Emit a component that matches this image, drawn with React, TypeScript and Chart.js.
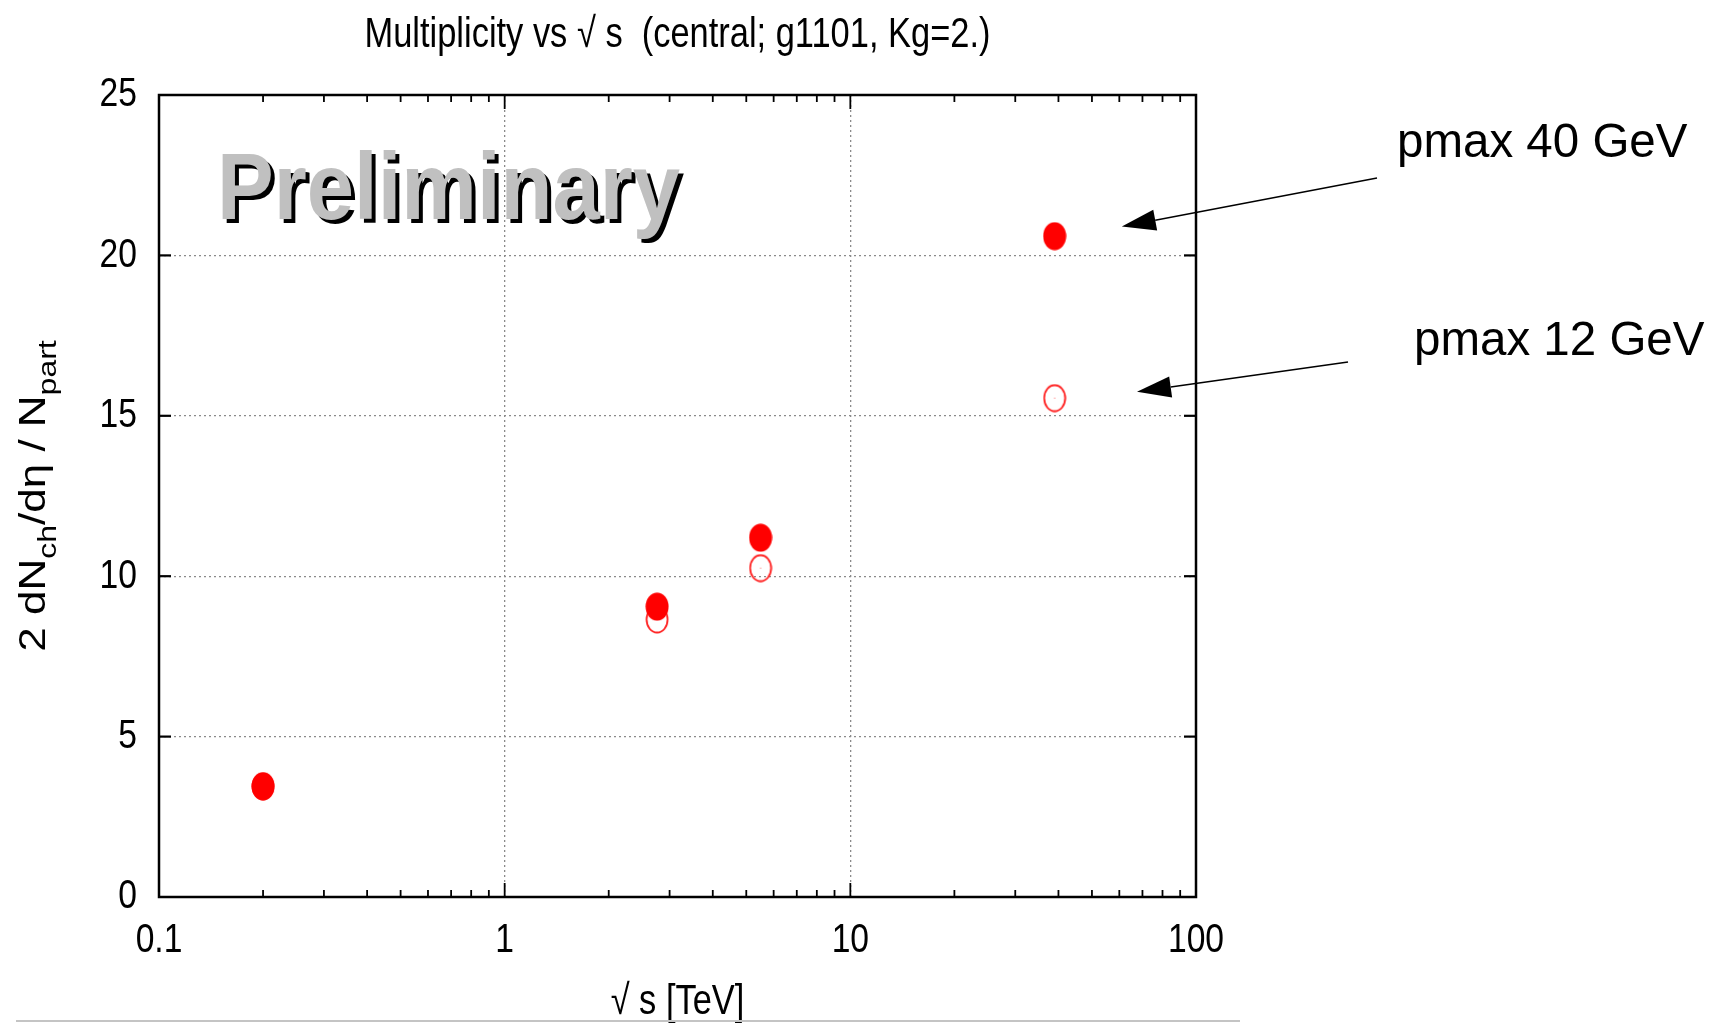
import React, { useEffect, useRef } from "react";
import { Chart, registerables } from "chart.js";

Chart.register(...registerables);

// ---- data ----
const energies = [0.2, 2.76, 5.5, 39]; // sqrt(s) [TeV]
const pmax40 = [3.45, 9.05, 11.2, 20.6];
const pmax12 = [3.45, 8.65, 10.25, 15.55];
const xTickValues = [0.1, 1, 10, 100];
const xMinorTicks = [0.2, 0.3, 0.4, 0.5, 0.6, 0.7, 0.8, 0.9, 2, 3, 4, 5, 6, 7, 8, 9, 20, 30, 40, 50, 60, 70, 80, 90];
const xMajorInner = [1, 10];
const yTickValues = [0, 5, 10, 15, 20, 25];
const yMajorInner = [5, 10, 15, 20];
const titleText = "Multiplicity vs \u221A s  (central; g1101, Kg=2.)";
const xTitleText = "\u221A s [TeV]";
const yLabelParts: [string, boolean][] = [
  ["2 dN", false],
  ["ch", true],
  ["/d\u03B7 / N", false],
  ["part", true],
];
const prelimText = "Preliminary";
const label40 = "pmax 40 GeV";
const label12 = "pmax 12 GeV";
const arrowTip40 = { x: 61, y: 20.9 };
const arrowTip12 = { x: 67.5, y: 15.75 };

const SANS = '"Liberation Sans", Arial, sans-serif';
const SQUEEZE = 0.82;

function makeMarker(filled: boolean): HTMLCanvasElement {
  const c = document.createElement("canvas");
  c.width = 24;
  c.height = 29;
  const g = c.getContext("2d")!;
  g.beginPath();
  if (filled) {
    g.ellipse(12, 14.5, 11.5, 14, 0, 0, Math.PI * 2);
    g.fillStyle = "#ff0000";
    g.fill();
  } else {
    g.ellipse(12, 14.5, 10.5, 13, 0, 0, Math.PI * 2);
    g.strokeStyle = "#ff2020";
    g.lineWidth = 1.8;
    g.stroke();
    g.fillStyle = "#ff6060";
    g.fillRect(11.5, 14, 1, 1);
  }
  return c;
}

function line(ctx: CanvasRenderingContext2D, x0: number, y0: number, x1: number, y1: number) {
  ctx.beginPath();
  ctx.moveTo(x0, y0);
  ctx.lineTo(x1, y1);
  ctx.stroke();
}

function narrowText(
  ctx: CanvasRenderingContext2D,
  text: string,
  x: number,
  y: number,
  size: number,
  align: CanvasTextAlign,
  baseline: CanvasTextBaseline
) {
  ctx.save();
  ctx.translate(x, y);
  ctx.scale(SQUEEZE, 1);
  ctx.font = `${size}px ${SANS}`;
  ctx.textAlign = align;
  ctx.textBaseline = baseline;
  ctx.fillStyle = "#000";
  ctx.fillText(text, 0, 0);
  ctx.restore();
}

function arrow(ctx: CanvasRenderingContext2D, x0: number, y0: number, x1: number, y1: number) {
  const ang = Math.atan2(y1 - y0, x1 - x0);
  const len = 34;
  const hw = 10.5;
  const bx = x1 - len * Math.cos(ang);
  const by = y1 - len * Math.sin(ang);
  ctx.strokeStyle = "#000";
  ctx.lineWidth = 1.6;
  line(ctx, x0, y0, bx, by);
  ctx.beginPath();
  ctx.moveTo(x1, y1);
  ctx.lineTo(bx + hw * Math.sin(ang), by - hw * Math.cos(ang));
  ctx.lineTo(bx - hw * Math.sin(ang), by + hw * Math.cos(ang));
  ctx.closePath();
  ctx.fillStyle = "#000";
  ctx.fill();
}

const decorPlugin = {
  id: "decor",
  beforeDraw(chart: any) {
    const { ctx, chartArea: a } = chart;
    ctx.save();
    ctx.fillStyle = "#ffffff";
    ctx.fillRect(0, 0, chart.width, chart.height);
    // Preliminary watermark with shadow
    ctx.translate(a.left + 58, a.top + 124);
    ctx.scale(0.895, 1);
    ctx.font = `bold 95px ${SANS}`;
    ctx.textBaseline = "alphabetic";
    ctx.textAlign = "left";
    ctx.fillStyle = "#000";
    ctx.fillText(prelimText, 4.5, 4);
    ctx.fillStyle = "#c0c0c0";
    ctx.fillText(prelimText, 0, 0);
    ctx.restore();
  },
  afterDraw(chart: any) {
    const { ctx, chartArea: a } = chart;
    const xs = chart.scales.x;
    const ys = chart.scales.y;
    ctx.save();
    // frame
    ctx.strokeStyle = "#000";
    ctx.lineWidth = 2.5;
    ctx.strokeRect(a.left, a.top, a.right - a.left, a.bottom - a.top);
    // inward ticks
    ctx.lineWidth = 2.2;
    for (const v of yMajorInner) {
      const y = ys.getPixelForValue(v);
      line(ctx, a.left, y, a.left + 12, y);
      line(ctx, a.right - 12, y, a.right, y);
    }
    ctx.lineWidth = 1.8;
    for (const v of xMinorTicks) {
      const x = xs.getPixelForValue(v);
      line(ctx, x, a.bottom, x, a.bottom - 7);
      line(ctx, x, a.top, x, a.top + 7);
    }
    for (const v of xMajorInner) {
      const x = xs.getPixelForValue(v);
      line(ctx, x, a.bottom, x, a.bottom - 14);
      line(ctx, x, a.top, x, a.top + 14);
    }
    // tick labels (condensed)
    for (const t of ys.ticks) {
      narrowText(ctx, String(t.value), a.left - 22, ys.getPixelForValue(t.value), 41, "right", "middle");
    }
    for (const t of xs.ticks) {
      narrowText(ctx, String(t.value), xs.getPixelForValue(t.value), a.bottom + 44, 41, "center", "middle");
    }
    const cx = (a.left + a.right) / 2;
    // title
    narrowText(ctx, titleText, cx, 47, 42, "center", "alphabetic");
    // x title
    narrowText(ctx, xTitleText, cx, 1014, 42, "center", "alphabetic");
    // y label (rotated, squeezed, with subscripts)
    const mainSize = 44;
    const subSize = 32;
    ctx.save();
    ctx.translate(45, (a.top + a.bottom) / 2);
    ctx.rotate(-Math.PI / 2);
    ctx.scale(1, SQUEEZE);
    ctx.fillStyle = "#000";
    let total = 0;
    for (const [t, sub] of yLabelParts) {
      ctx.font = `${sub ? subSize : mainSize}px ${SANS}`;
      total += ctx.measureText(t).width;
    }
    let px = -total / 2;
    ctx.textAlign = "left";
    ctx.textBaseline = "alphabetic";
    for (const [t, sub] of yLabelParts) {
      ctx.font = `${sub ? subSize : mainSize}px ${SANS}`;
      ctx.fillText(t, px, sub ? 13 : 0);
      px += ctx.measureText(t).width;
    }
    ctx.restore();
    // annotations
    ctx.font = `47.5px ${SANS}`;
    ctx.textAlign = "left";
    ctx.textBaseline = "alphabetic";
    ctx.fillStyle = "#000";
    ctx.fillText(label40, 1397, 157);
    ctx.fillText(label12, 1414, 355);
    arrow(ctx, 1377, 178, xs.getPixelForValue(arrowTip40.x), ys.getPixelForValue(arrowTip40.y));
    arrow(ctx, 1348, 362, xs.getPixelForValue(arrowTip12.x), ys.getPixelForValue(arrowTip12.y));
    // slide bottom rule
    ctx.strokeStyle = "#c4c4c4";
    ctx.lineWidth = 2;
    line(ctx, 16, 1021, 1240, 1021);
    ctx.restore();
  },
};

export default function App() {
  const ref = useRef<HTMLCanvasElement | null>(null);
  useEffect(() => {
    document.body.style.margin = "0";
    const canvas = ref.current!;
    const filledImg = makeMarker(true);
    const openImg = makeMarker(false);
    const gridColor = (edge: number[]) => (c: any) =>
      c.tick && edge.includes(c.tick.value) ? "rgba(0,0,0,0)" : "#8a8a8a";
    const chart = new Chart(canvas, {
      type: "scatter",
      data: {
        datasets: [
          {
            label: label40,
            data: energies.map((x, i) => ({ x, y: pmax40[i] })),
            pointStyle: filledImg as any,
            pointRadius: 12,
            showLine: false,
          },
          {
            label: label12,
            data: energies.map((x, i) => ({ x, y: pmax12[i] })),
            pointStyle: openImg as any,
            pointRadius: 12,
            showLine: false,
          },
        ],
      },
      options: {
        responsive: false,
        animation: false,
        layout: { padding: { left: 0, top: 95, right: 525, bottom: 0 } },
        plugins: {
          legend: { display: false },
          title: { display: false },
          tooltip: { enabled: false },
        },
        scales: {
          x: {
            type: "logarithmic",
            min: 0.1,
            max: 100,
            afterBuildTicks: (s: any) => {
              s.ticks = xTickValues.map((v) => ({ value: v, major: true }));
            },
            afterFit: (s: any) => {
              s.height = 126;
            },
            ticks: { display: false, autoSkip: false, maxRotation: 0 },
            grid: { color: gridColor([0.1, 100]), lineWidth: 1.3, drawTicks: false },
            border: { display: false, dash: [2, 3] },
          },
          y: {
            min: 0,
            max: 25,
            afterBuildTicks: (s: any) => {
              s.ticks = yTickValues.map((v) => ({ value: v }));
            },
            afterFit: (s: any) => {
              s.width = 159;
            },
            ticks: { display: false },
            grid: { color: gridColor([0, 25]), lineWidth: 1.3, drawTicks: false },
            border: { display: false, dash: [2, 3] },
          },
        },
      },
      plugins: [decorPlugin],
    });
    return () => chart.destroy();
  }, []);
  return (
    <div style={{ position: "fixed", left: 0, top: 0, width: 1721, height: 1023, background: "#fff" }}>
      <canvas ref={ref} width={1721} height={1023} style={{ width: 1721, height: 1023 }} />
    </div>
  );
}
